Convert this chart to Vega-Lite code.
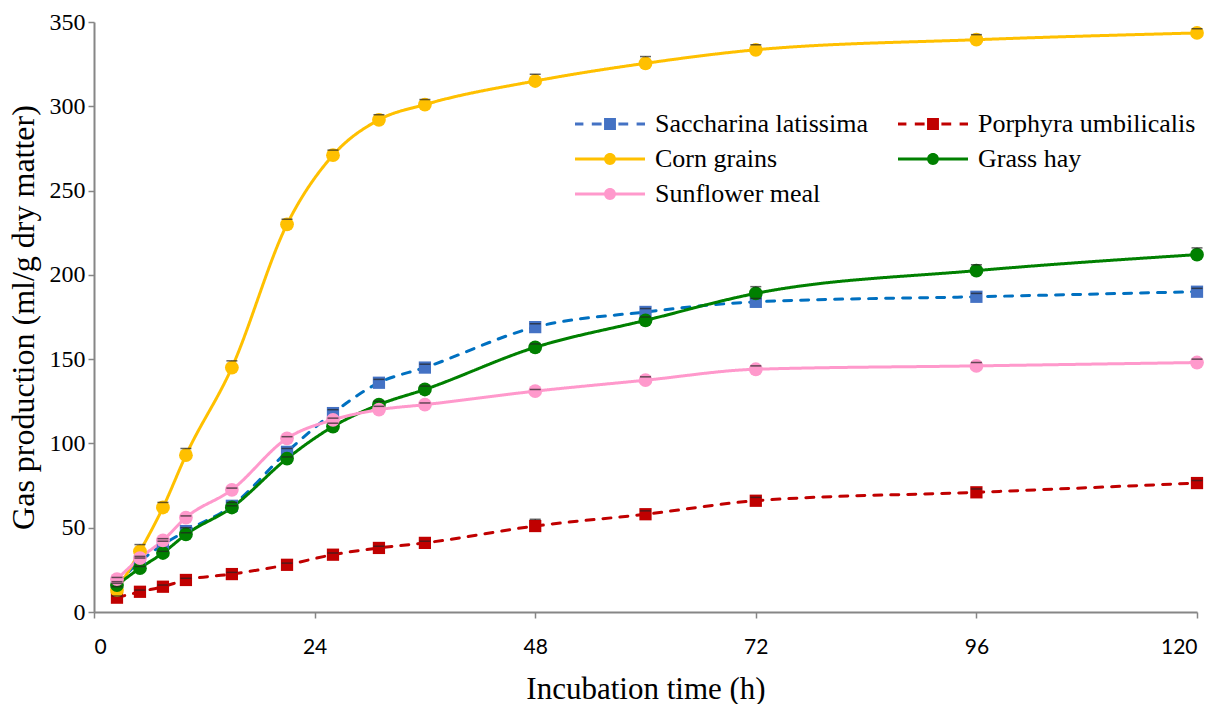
{
  "$schema": "https://vega.github.io/schema/vega-lite/v6.json",
  "width": 1103,
  "height": 590,
  "autosize": {"type": "none"},
  "padding": {"left": 94, "top": 22, "right": 28, "bottom": 92},
  "background": "white",
  "config": {
    "view": {"stroke": null},
    "axis": {"grid": false, "domainColor": "#868686", "domainWidth": 2, "tickColor": "#868686", "tickWidth": 1.5, "tickSize": 6, "titleFontWeight": "normal", "titleColor": "#000", "labelColor": "#000"}
  },
  "data": {"values": [
    {"series": "Saccharina latissima", "t": 2.5, "v": 17, "hi": 18},
    {"series": "Saccharina latissima", "t": 5, "v": 30, "hi": 32},
    {"series": "Saccharina latissima", "t": 7.5, "v": 40, "hi": 42},
    {"series": "Saccharina latissima", "t": 10, "v": 48, "hi": 50},
    {"series": "Saccharina latissima", "t": 15, "v": 63, "hi": 65},
    {"series": "Saccharina latissima", "t": 21, "v": 95, "hi": 97},
    {"series": "Saccharina latissima", "t": 26, "v": 118, "hi": 120},
    {"series": "Saccharina latissima", "t": 31, "v": 136, "hi": 138},
    {"series": "Saccharina latissima", "t": 36, "v": 145, "hi": 147},
    {"series": "Saccharina latissima", "t": 48, "v": 169, "hi": 171},
    {"series": "Saccharina latissima", "t": 60, "v": 178, "hi": 180},
    {"series": "Saccharina latissima", "t": 72, "v": 184, "hi": 186},
    {"series": "Saccharina latissima", "t": 96, "v": 187, "hi": 189},
    {"series": "Saccharina latissima", "t": 120, "v": 190, "hi": 192},
    {"series": "Porphyra umbilicalis", "t": 2.5, "v": 8.5, "hi": 9.5},
    {"series": "Porphyra umbilicalis", "t": 5, "v": 12, "hi": 13},
    {"series": "Porphyra umbilicalis", "t": 7.5, "v": 15, "hi": 16},
    {"series": "Porphyra umbilicalis", "t": 10, "v": 19, "hi": 20},
    {"series": "Porphyra umbilicalis", "t": 15, "v": 22.5, "hi": 23.5},
    {"series": "Porphyra umbilicalis", "t": 21, "v": 28, "hi": 29},
    {"series": "Porphyra umbilicalis", "t": 26, "v": 34, "hi": 35},
    {"series": "Porphyra umbilicalis", "t": 31, "v": 38, "hi": 39},
    {"series": "Porphyra umbilicalis", "t": 36, "v": 41, "hi": 42},
    {"series": "Porphyra umbilicalis", "t": 48, "v": 51, "hi": 55},
    {"series": "Porphyra umbilicalis", "t": 60, "v": 58, "hi": 60},
    {"series": "Porphyra umbilicalis", "t": 72, "v": 66, "hi": 68},
    {"series": "Porphyra umbilicalis", "t": 96, "v": 71, "hi": 73},
    {"series": "Porphyra umbilicalis", "t": 120, "v": 76.5, "hi": 78},
    {"series": "Corn grains", "t": 2.5, "v": 13, "hi": 15},
    {"series": "Corn grains", "t": 5, "v": 36, "hi": 40},
    {"series": "Corn grains", "t": 7.5, "v": 62, "hi": 65},
    {"series": "Corn grains", "t": 10, "v": 93, "hi": 97},
    {"series": "Corn grains", "t": 15, "v": 145, "hi": 149},
    {"series": "Corn grains", "t": 21, "v": 230, "hi": 233},
    {"series": "Corn grains", "t": 26, "v": 271, "hi": 274},
    {"series": "Corn grains", "t": 31, "v": 292, "hi": 295},
    {"series": "Corn grains", "t": 36, "v": 301, "hi": 304},
    {"series": "Corn grains", "t": 48, "v": 315, "hi": 319},
    {"series": "Corn grains", "t": 60, "v": 325.5, "hi": 329.5},
    {"series": "Corn grains", "t": 72, "v": 333.5, "hi": 336.5},
    {"series": "Corn grains", "t": 96, "v": 339.5, "hi": 342.5},
    {"series": "Corn grains", "t": 120, "v": 343.5, "hi": 346},
    {"series": "Grass hay", "t": 2.5, "v": 16, "hi": 17},
    {"series": "Grass hay", "t": 5, "v": 26, "hi": 27},
    {"series": "Grass hay", "t": 7.5, "v": 35, "hi": 36},
    {"series": "Grass hay", "t": 10, "v": 46, "hi": 47},
    {"series": "Grass hay", "t": 15, "v": 62, "hi": 63},
    {"series": "Grass hay", "t": 21, "v": 91, "hi": 92},
    {"series": "Grass hay", "t": 26, "v": 110, "hi": 112},
    {"series": "Grass hay", "t": 31, "v": 123, "hi": 125},
    {"series": "Grass hay", "t": 36, "v": 132, "hi": 134},
    {"series": "Grass hay", "t": 48, "v": 157, "hi": 159},
    {"series": "Grass hay", "t": 60, "v": 173, "hi": 175},
    {"series": "Grass hay", "t": 72, "v": 189, "hi": 193},
    {"series": "Grass hay", "t": 96, "v": 202.5, "hi": 206},
    {"series": "Grass hay", "t": 120, "v": 212, "hi": 216},
    {"series": "Sunflower meal", "t": 2.5, "v": 19.5, "hi": 20.5},
    {"series": "Sunflower meal", "t": 5, "v": 32, "hi": 33},
    {"series": "Sunflower meal", "t": 7.5, "v": 42.5, "hi": 43.5},
    {"series": "Sunflower meal", "t": 10, "v": 56, "hi": 57},
    {"series": "Sunflower meal", "t": 15, "v": 72.5, "hi": 73.5},
    {"series": "Sunflower meal", "t": 21, "v": 103, "hi": 104},
    {"series": "Sunflower meal", "t": 26, "v": 114, "hi": 115},
    {"series": "Sunflower meal", "t": 31, "v": 120, "hi": 122},
    {"series": "Sunflower meal", "t": 36, "v": 123, "hi": 124},
    {"series": "Sunflower meal", "t": 48, "v": 131, "hi": 132},
    {"series": "Sunflower meal", "t": 60, "v": 137.5, "hi": 139.5},
    {"series": "Sunflower meal", "t": 72, "v": 144, "hi": 146},
    {"series": "Sunflower meal", "t": 96, "v": 146, "hi": 148},
    {"series": "Sunflower meal", "t": 120, "v": 148, "hi": 150}
  ]},
  "encoding": {
    "x": {"field": "t", "type": "quantitative",
      "scale": {"domain": [0, 120], "nice": false},
      "axis": {"values": [0, 24, 48, 72, 96, 120], "title": "Incubation time (h)", "titleFont": "Liberation Serif", "titleFontSize": 31, "titlePadding": 17, "labelFont": "Lato", "labelFontSize": 21, "labelPadding": 18}},
    "y": {"field": "v", "type": "quantitative",
      "scale": {"domain": [0, 350], "nice": false},
      "axis": {"values": [0, 50, 100, 150, 200, 250, 300, 350], "title": "Gas production (ml/g dry matter)", "titleFont": "Liberation Serif", "titleFontSize": 32, "titlePadding": 9, "labelFont": "Liberation Serif", "labelFontSize": 24, "labelPadding": 3}}
  },
  "layer": [
    {
      "mark": {"type": "line", "interpolate": "monotone", "strokeWidth": 3, "strokeCap": "round"},
      "encoding": {
        "stroke": {"field": "series", "type": "nominal", "legend": null,
          "scale": {"domain": ["Corn grains", "Grass hay", "Porphyra umbilicalis", "Saccharina latissima", "Sunflower meal"], "range": ["#FFC000", "#008000", "#C00000", "#0070C0", "#FF99CC"]}},
        "strokeDash": {"field": "series", "type": "nominal", "legend": null,
          "scale": {"domain": ["Corn grains", "Grass hay", "Porphyra umbilicalis", "Saccharina latissima", "Sunflower meal"], "range": [[1, 0], [1, 0], [8, 9], [8, 9], [1, 0]]}}
      }
    },
    {
      "mark": {"type": "rule", "color": "#222222", "strokeWidth": 1},
      "encoding": {"y2": {"field": "hi"}}
    },
    {
      "transform": [{"filter": {"field": "series", "oneOf": ["Saccharina latissima", "Porphyra umbilicalis"]}}],
      "mark": {"type": "square", "size": 150, "opacity": 1, "filled": true},
      "encoding": {
        "fill": {"field": "series", "type": "nominal", "legend": null,
          "scale": {"domain": ["Corn grains", "Grass hay", "Porphyra umbilicalis", "Saccharina latissima", "Sunflower meal"], "range": ["#FFC000", "#008000", "#C00000", "#4472C4", "#FF99CC"]}}
      }
    },
    {
      "transform": [{"filter": {"field": "series", "oneOf": ["Corn grains", "Grass hay", "Sunflower meal"]}}],
      "mark": {"type": "circle", "size": 190, "opacity": 1, "filled": true},
      "encoding": {
        "fill": {"field": "series", "type": "nominal", "legend": null,
          "scale": {"domain": ["Corn grains", "Grass hay", "Porphyra umbilicalis", "Saccharina latissima", "Sunflower meal"], "range": ["#FFC000", "#008000", "#C00000", "#4472C4", "#FF99CC"]}}
      }
    },
    {
      "mark": {"type": "tick", "orient": "horizontal", "color": "#222222", "size": 11, "thickness": 1.5},
      "encoding": {"y": {"field": "hi", "type": "quantitative"}}
    },
    {
      "mark": {"type": "point", "filled": true, "opacity": 0},
      "encoding": {
        "color": {"field": "series", "type": "nominal",
          "scale": {"domain": ["Saccharina latissima", "Porphyra umbilicalis", "Corn grains", "Grass hay", "Sunflower meal"], "range": ["#4472C4", "#C00000", "#FFC000", "#008000", "#FF99CC"]},
          "legend": {"orient": "none", "direction": "horizontal", "legendX": 503, "legendY": 89, "columns": 2, "title": null, "symbolSize": 196, "symbolStrokeWidth": 0, "symbolOpacity": 1, "labelFont": "Liberation Serif", "labelFontSize": 26, "labelColor": "#000", "labelOffset": 32, "rowPadding": 9, "columnPadding": 30, "labelLimit": 400}},
        "shape": {"field": "series", "type": "nominal",
          "scale": {"domain": ["Saccharina latissima", "Porphyra umbilicalis", "Corn grains", "Grass hay", "Sunflower meal"],
            "range": [
              "M-5,-0.2H-3.8V0.2H-5Z M-2.6,-0.2H-1.2V0.2H-2.6Z M1.2,-0.2H2.6V0.2H1.2Z M3.8,-0.2H5V0.2H3.8Z M-0.85,-0.85H0.85V0.85H-0.85Z",
              "M-5,-0.2H-3.8V0.2H-5Z M-2.6,-0.2H-1.2V0.2H-2.6Z M1.2,-0.2H2.6V0.2H1.2Z M3.8,-0.2H5V0.2H3.8Z M-0.85,-0.85H0.85V0.85H-0.85Z",
              "M-5,-0.2H5V0.2H-5Z M-0.85,0A0.85,0.85 0 1,1 0.85,0A0.85,0.85 0 1,1 -0.85,0Z",
              "M-5,-0.2H5V0.2H-5Z M-0.85,0A0.85,0.85 0 1,1 0.85,0A0.85,0.85 0 1,1 -0.85,0Z",
              "M-5,-0.2H5V0.2H-5Z M-0.85,0A0.85,0.85 0 1,1 0.85,0A0.85,0.85 0 1,1 -0.85,0Z"
            ]},
          "legend": {"orient": "none", "direction": "horizontal", "legendX": 503, "legendY": 89, "columns": 2, "title": null, "symbolSize": 196, "symbolStrokeWidth": 0, "symbolOpacity": 1, "labelFont": "Liberation Serif", "labelFontSize": 26, "labelColor": "#000", "labelOffset": 32, "rowPadding": 9, "columnPadding": 30, "labelLimit": 400}}
      }
    }
  ]
}
